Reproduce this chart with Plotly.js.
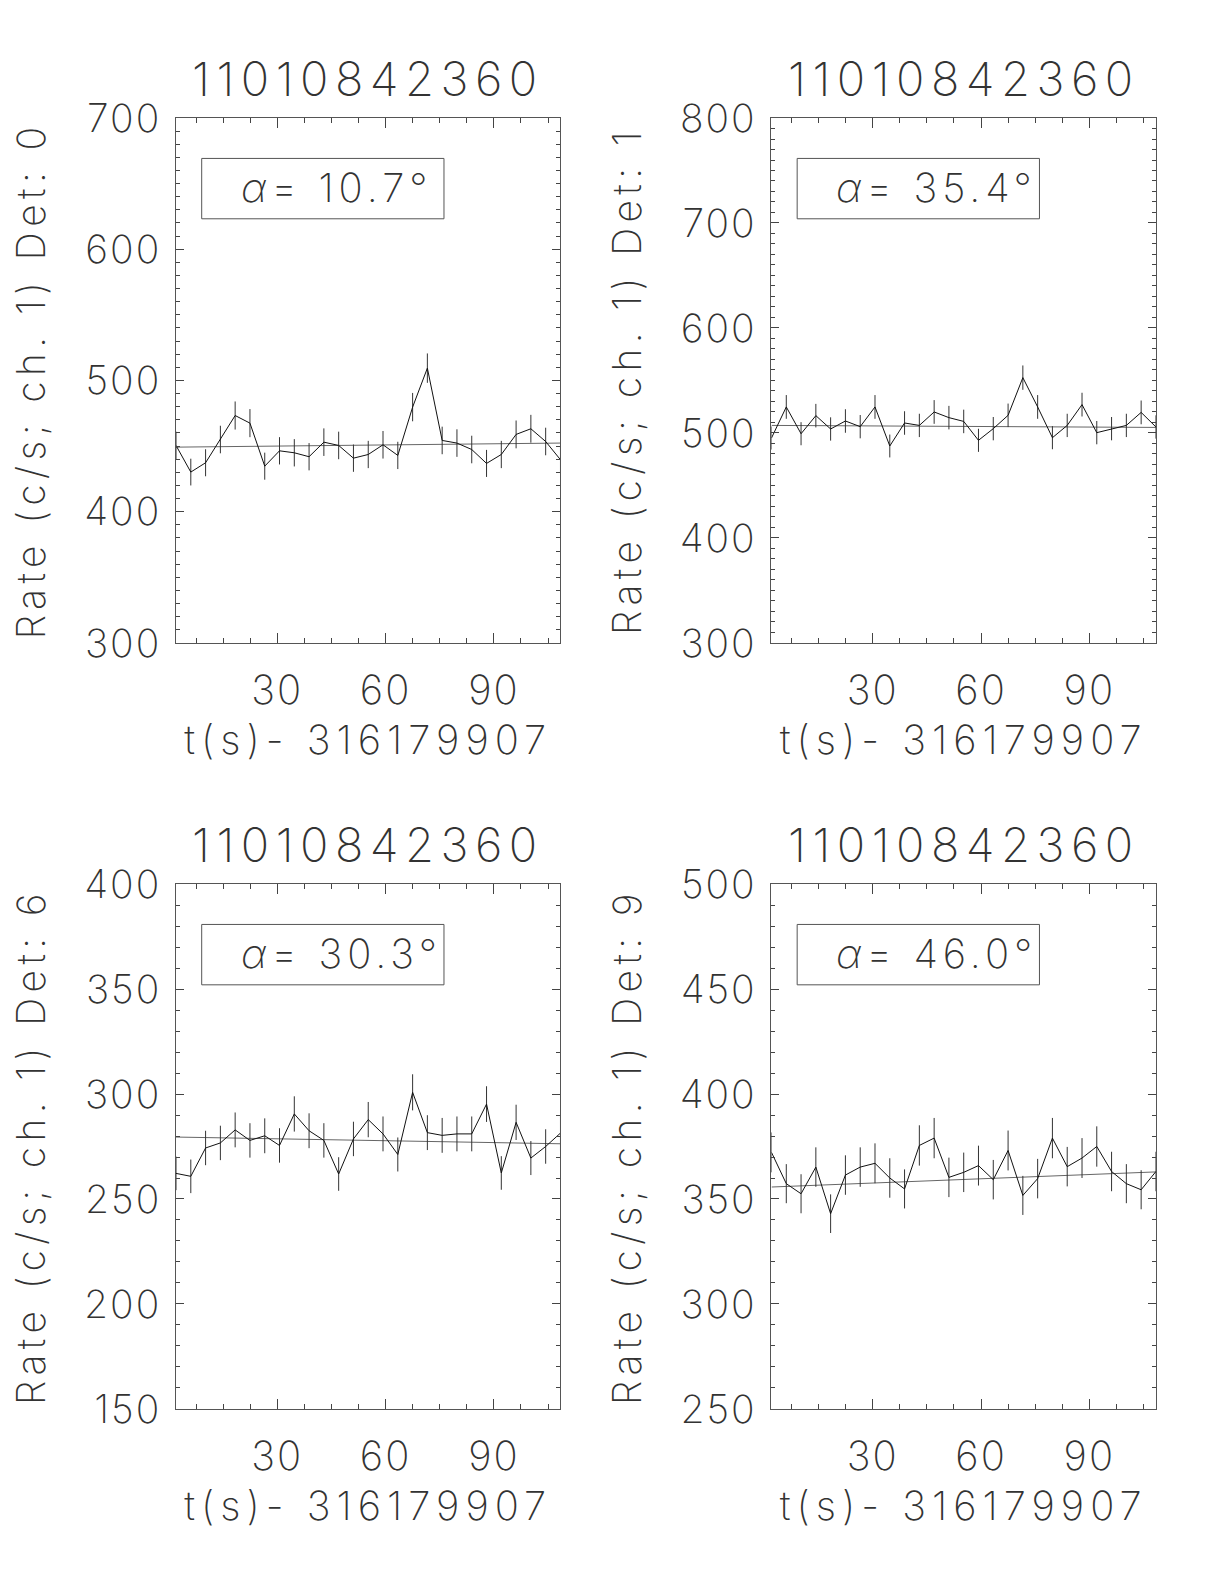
<!DOCTYPE html>
<html>
<head>
<meta charset="utf-8">
<script src="https://cdn.plot.ly/plotly-3.0.1.min.js"></script>
<style>
html,body{margin:0;padding:0;background:#fff;}
.annotation-text{letter-spacing:6.5px;}
.annotation[data-index="4"] .annotation-text,
.annotation[data-index="5"] .annotation-text,
.annotation[data-index="6"] .annotation-text,
.annotation[data-index="7"] .annotation-text{letter-spacing:5px;}
.xtitle,.x2title,.x3title,.x4title{letter-spacing:6px;}
.ytitle,.y2title,.y3title,.y4title{letter-spacing:5.4px;}
.xtick text,.x2tick text,.x3tick text,.x4tick text,
.ytick text,.y2tick text,.y3tick text,.y4tick text{letter-spacing:2px;}
</style>
</head>
<body>
<div id="chart" style="width:1224px;height:1584px;"></div>
<script>
// ---- data ----
const times = [1.95, 6.05, 10.14, 14.24, 18.33, 22.43, 26.53, 30.62, 34.72, 38.81, 42.91, 47.01, 51.10, 55.20, 59.29, 63.39, 67.49, 71.58, 75.68, 79.77, 83.87, 87.97, 92.06, 96.16, 100.25, 104.35, 108.45];
const fitTimes = [1.95, 108.45];

const panelTitles = ["11010842360", "11010842360", "11010842360", "11010842360"];
const yTitles = ["Rate (c/s; ch. 1) Det: 0", "Rate (c/s; ch. 1) Det: 1", "Rate (c/s; ch. 1) Det: 6", "Rate (c/s; ch. 1) Det: 9"];
const xTitle = "t(s)- 316179907";
const alphaLabels = ["10.7", "35.4", "30.3", "46.0"];

const rateDet0 = [450.5, 430.2, 437.3, 455.0, 473.3, 467.5, 434.7, 446.4, 444.9, 441.9, 453.0, 450.5, 440.8, 443.6, 451.0, 442.9, 479.7, 509.4, 454.3, 452.3, 447.4, 436.8, 443.6, 458.9, 463.2, 453.5, 439.6];
const errDet0 = [10.5, 10.2, 10.3, 10.5, 10.7, 10.7, 10.3, 10.4, 10.4, 10.4, 10.5, 10.5, 10.4, 10.4, 10.5, 10.4, 10.8, 11.2, 10.5, 10.5, 10.5, 10.3, 10.4, 10.6, 10.6, 10.5, 10.4];
const fitDet0 = [449.2, 452.3];

const rateDet1 = [495.2, 524.8, 499.3, 516.5, 503.8, 511.4, 506.0, 524.8, 487.6, 509.5, 507.2, 520.0, 514.6, 511.0, 493.0, 504.1, 516.8, 552.7, 524.8, 495.5, 507.2, 527.0, 500.3, 504.1, 507.2, 519.6, 505.7];
const errDet1 = [11.0, 11.3, 11.0, 11.2, 11.1, 11.2, 11.1, 11.3, 10.9, 11.2, 11.1, 11.3, 11.2, 11.2, 11.0, 11.1, 11.2, 11.6, 11.3, 11.0, 11.1, 11.3, 11.1, 11.1, 11.1, 11.3, 11.1];
const fitDet1 = [507.2, 505.3];

const rateDet6 = [262.2, 260.8, 274.3, 276.7, 282.9, 277.9, 280.1, 275.5, 290.5, 282.5, 277.9, 261.9, 278.6, 287.8, 281.0, 271.2, 300.8, 281.6, 280.3, 281.0, 281.0, 295.2, 262.4, 286.5, 269.5, 275.0, 281.4];
const errDet6 = [8.0, 8.0, 8.2, 8.2, 8.3, 8.2, 8.3, 8.2, 8.4, 8.3, 8.2, 8.0, 8.2, 8.4, 8.3, 8.1, 8.6, 8.3, 8.3, 8.3, 8.3, 8.5, 8.0, 8.4, 8.1, 8.2, 8.3];
const fitDet6 = [279.5, 276.3];

const rateDet9 = [372.2, 357.3, 352.5, 365.2, 343.0, 361.4, 365.2, 367.0, 360.0, 354.8, 375.5, 379.0, 360.3, 362.7, 365.9, 359.2, 373.1, 351.7, 359.7, 379.0, 365.4, 369.5, 375.0, 363.1, 357.3, 354.4, 363.1];
const errDet9 = [9.5, 9.3, 9.3, 9.4, 9.2, 9.4, 9.4, 9.5, 9.4, 9.3, 9.6, 9.6, 9.4, 9.4, 9.5, 9.4, 9.5, 9.3, 9.4, 9.6, 9.4, 9.5, 9.6, 9.4, 9.3, 9.3, 9.4];
const fitDet9 = [355.7, 362.9];

const yRanges = [[300, 700], [300, 800], [150, 400], [250, 500]];
const yDticks = [100, 100, 50, 50];

// ---- build ----
const rates = [rateDet0, rateDet1, rateDet6, rateDet9];
const errs = [errDet0, errDet1, errDet6, errDet9];
const fits = [fitDet0, fitDet1, fitDet6, fitDet9];

const FONT = "Inter, 'DejaVu Sans', sans-serif";
const TXT = "#333";
const xDomains = [[0.1438, 0.4579], [0.6303, 0.9444], [0.1438, 0.4579], [0.6303, 0.9444]];
const yDomains = [[0.5941, 0.9255], [0.5941, 0.9255], [0.1105, 0.4419], [0.1105, 0.4419]];

const traces = [];
const layout = {
  width: 1224, height: 1584,
  margin: {l: 0, r: 0, t: 0, b: 0},
  paper_bgcolor: "#fff", plot_bgcolor: "#fff",
  showlegend: false,
  font: {family: FONT, color: TXT, size: 39, weight: 200},
  annotations: [], shapes: []
};
const alphaAnns = [];

for (let i = 0; i < 4; i++) {
  const sfx = i === 0 ? "" : String(i + 1);
  const xa = "x" + sfx, ya = "y" + sfx;
  traces.push({
    x: fitTimes, y: fits[i], xaxis: xa, yaxis: ya,
    mode: "lines", line: {color: "#666", width: 1}, hoverinfo: "skip"
  });
  traces.push({
    x: times, y: rates[i], xaxis: xa, yaxis: ya,
    mode: "lines", line: {color: "#111", width: 1},
    error_y: {type: "data", array: errs[i], visible: true, width: 0, thickness: 1, color: "#333"}
  });
  layout["xaxis" + sfx] = {
    domain: xDomains[i], anchor: ya, range: [times[0], times[times.length - 1]],
    tickmode: "linear", tick0: 0, dtick: 30,
    ticks: "inside", ticklen: 10, tickwidth: 1, tickcolor: "#444",
    minor: {tickmode: "linear", tick0: 0, dtick: 7.5, ticks: "inside", ticklen: 5, tickwidth: 1, tickcolor: "#444", showgrid: false},
    showline: true, linecolor: "#555", linewidth: 1, mirror: "ticks",
    showgrid: false, zeroline: false,
    tickfont: {family: FONT, size: 40, color: TXT, weight: 200},
    ticklabelstandoff: 12,
    title: {text: xTitle, font: {family: FONT, size: 40, color: TXT, weight: 200}, standoff: 13}
  };
  layout["yaxis" + sfx] = {
    domain: yDomains[i], anchor: xa, range: yRanges[i],
    tickmode: "linear", tick0: 0, dtick: yDticks[i],
    ticks: "inside", ticklen: 8, tickwidth: 1, tickcolor: "#444",
    minor: {tickmode: "linear", tick0: 0, dtick: 10, ticks: "inside", ticklen: 4, tickwidth: 1, tickcolor: "#444", showgrid: false},
    showline: true, linecolor: "#555", linewidth: 1, mirror: "ticks",
    showgrid: false, zeroline: false,
    tickfont: {family: FONT, size: 39, color: TXT, weight: 200},
    ticklabelstandoff: 6,
    title: {text: yTitles[i], font: {family: FONT, size: 39, color: TXT, weight: 200}, standoff: 26}
  };
  layout.annotations.push({
    xref: xa + " domain", yref: ya + " domain", x: 0.5, y: 1, xanchor: "center", yanchor: "bottom",
    yshift: 9, showarrow: false, text: panelTitles[i],
    font: {family: FONT, size: 47, color: TXT, weight: 200}
  });
  alphaAnns.push({
    xref: xa + " domain", yref: ya + " domain", x: 0.163, y: 0.868, xanchor: "left", yanchor: "middle",
    align: "left", showarrow: false, text: "<i>α</i>=\u00a0" + alphaLabels[i] + "°",
    font: {family: FONT, size: 40, color: TXT, weight: 200}
  });
  layout.shapes.push({
    type: "rect", xref: xa + " domain", yref: ya + " domain",
    x0: 0.0668, x1: 0.697, y0: 0.808, y1: 0.923,
    line: {color: "#555", width: 1}, fillcolor: "rgba(0,0,0,0)"
  });
}
layout.annotations = layout.annotations.concat(alphaAnns);

Plotly.newPlot("chart", traces, layout, {staticPlot: true, displayModeBar: false});
</script>
</body>
</html>
